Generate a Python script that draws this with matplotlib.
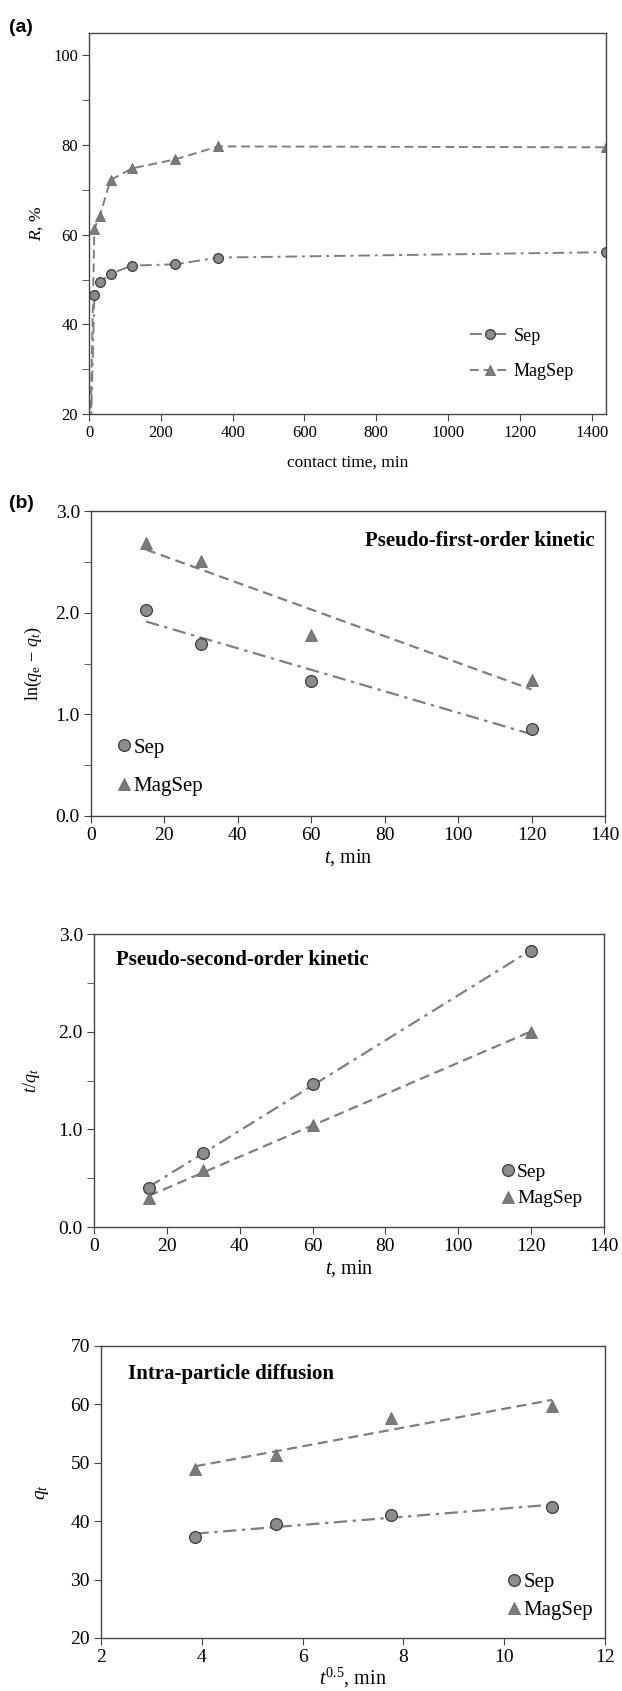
import numpy as np
import matplotlib
matplotlib.use('Agg')
import matplotlib.pyplot as plt
from matplotlib.ticker import MultipleLocator

plt.rcParams['font.family'] = ['Liberation Serif', 'DejaVu Serif']
plt.rcParams['mathtext.fontset'] = 'custom'
plt.rcParams['mathtext.rm'] = 'Liberation Serif'
plt.rcParams['mathtext.it'] = 'Liberation Serif:italic'
plt.rcParams['mathtext.bf'] = 'Liberation Serif:bold'

# (a) removal vs contact time
time_a = [0, 15, 30, 60, 120, 240, 360, 1440]
sep_R = [0, 46.6, 49.4, 51.3, 53.1, 53.4, 54.9, 56.1]
mag_R = [0, 61.3, 64.2, 72.2, 74.8, 76.8, 79.7, 79.5]

# (b) kinetics
t_kin = np.array([15, 30, 60, 120])
sep_pfo = [2.03, 1.69, 1.33, 0.86]
mag_pfo = [2.69, 2.51, 1.78, 1.34]
sep_pso = [0.40, 0.76, 1.46, 2.83]
mag_pso = [0.30, 0.58, 1.04, 2.00]
t_sqrt = np.sqrt(t_kin)
sep_ipd = [37.3, 39.5, 41.0, 42.5]
mag_ipd = [49.0, 51.3, 57.7, 59.8]

fill = '#8c8c8c'
edge = '#3c3c3c'
lcol = '#7f7f7f'
dash = (0, (4.5, 2.5))
dashdot = (0, (6, 2.5, 1.5, 2.5))

W, H = 622, 1691
fig = plt.figure(figsize=(W / 100, H / 100), dpi=100)


def axes_px(l, r, t, b):
    return fig.add_axes([l / W, 1 - b / H, (r - l) / W, (b - t) / H])


def style(ax, fs):
    for s in ax.spines.values():
        s.set_color('#444444')
        s.set_linewidth(1.0)
    ax.tick_params(which='both', direction='out', top=False, right=False,
                   labelsize=fs, color='#444444', pad=3)
    ax.tick_params(which='major', length=5)
    ax.tick_params(which='minor', length=5)


# ---- panel (a)
ax = axes_px(89, 606, 33, 414)
ax.plot(time_a, sep_R, linestyle=dashdot, color=lcol, lw=1.4, marker='o',
        ms=7, mfc=fill, mec=edge, mew=0.9, label='Sep', clip_on=True)
ax.plot(time_a, mag_R, linestyle=dash, color=lcol, lw=1.4, marker='^',
        ms=7.5, mfc='#7a7a7a', mec='#6a6a6a', mew=0.6, label='MagSep')
ax.set_xlim(0, 1440)
ax.set_ylim(20, 105)
ax.xaxis.set_major_locator(MultipleLocator(200))
ax.yaxis.set_major_locator(MultipleLocator(20))
ax.yaxis.set_minor_locator(MultipleLocator(10))
style(ax, 12)
ax.set_xlabel('contact time, min', fontsize=12.5, labelpad=10)
ax.set_ylabel(r'$R$, %', fontsize=12.5, labelpad=6)
ax.legend(loc='upper left', bbox_to_anchor=(0.72, 0.25), frameon=False,
          fontsize=13, handlelength=2.2, handletextpad=0.2, labelspacing=1.0,
          borderpad=0)
fig.text(9 / W, 1 - 28 / H, '(a)', family='Liberation Sans', weight='bold',
         fontsize=14, va='center', ha='left')


def kinetic(l, r, t, b, x, ys, ym, xlim, ylim, xstep, ystep, minor):
    ax = axes_px(l, r, t, b)
    for y, ls in ((ym, dash), (ys, dashdot)):
        k, c = np.polyfit(x, y, 1)
        xx = np.array([x[0], x[-1]])
        ax.plot(xx, k * xx + c, linestyle=ls, color=lcol, lw=1.6)
    ax.plot(x, ys, linestyle='none', marker='o', ms=8.5, mfc=fill, mec=edge,
            mew=0.9, label='Sep')
    ax.plot(x, ym, linestyle='none', marker='^', ms=9, mfc='#7a7a7a',
            mec='#6a6a6a', mew=0.6, label='MagSep')
    ax.set_xlim(*xlim)
    ax.set_ylim(*ylim)
    ax.xaxis.set_major_locator(MultipleLocator(xstep))
    ax.yaxis.set_major_locator(MultipleLocator(ystep))
    if minor:
        ax.yaxis.set_minor_locator(MultipleLocator(minor))
    style(ax, 14)
    return ax


# ---- panel (b) pseudo-first-order
ax = kinetic(91, 605, 511, 816, t_kin, sep_pfo, mag_pfo, (0, 140), (0, 3),
             20, 1.0, 0.5)
ax.yaxis.set_major_formatter(lambda v, p: f'{v:.1f}')
ax.set_xlabel(r'$t$, min', fontsize=14.5, labelpad=2)
ax.set_ylabel(r'ln($q_{\rm e}$ $-$ $q_t$)', fontsize=13, labelpad=8)
ax.text(0.979, 0.90, 'Pseudo-first-order kinetic', transform=ax.transAxes,
        ha='right', va='center', fontsize=15, weight='bold')
ax.legend(loc='upper left', bbox_to_anchor=(0.03, 0.29), frameon=False,
          fontsize=15, handlelength=0.7, handletextpad=0.1, labelspacing=0.9,
          borderpad=0)
fig.text(9 / W, 1 - 503 / H, '(b)', family='Liberation Sans', weight='bold',
         fontsize=14, va='center', ha='left')

# ---- panel pseudo-second-order
ax = kinetic(94, 604, 934, 1227, t_kin, sep_pso, mag_pso, (0, 140), (0, 3),
             20, 1.0, 0.5)
ax.yaxis.set_major_formatter(lambda v, p: f'{v:.1f}')
ax.set_xlabel(r'$t$, min', fontsize=14.5, labelpad=2)
ax.set_ylabel(r'$t$/$q_t$', fontsize=13, labelpad=12)
ax.text(0.043, 0.91, 'Pseudo-second-order kinetic', transform=ax.transAxes,
        ha='left', va='center', fontsize=15, weight='bold')
ax.legend(loc='upper left', bbox_to_anchor=(0.78, 0.25), frameon=False,
          fontsize=14, handlelength=0.7, handletextpad=0.1, labelspacing=0.45,
          borderpad=0)

# ---- panel intra-particle diffusion
ax = kinetic(101, 605, 1346, 1638, t_sqrt, sep_ipd, mag_ipd, (2, 12), (20, 70),
             2, 10, None)
ax.set_xlabel(r'$t^{0.5}$, min', fontsize=14.5, labelpad=0)
ax.set_ylabel(r'$q_t$', fontsize=14, labelpad=14)
ax.text(0.053, 0.905, 'Intra-particle diffusion', transform=ax.transAxes,
        ha='left', va='center', fontsize=15, weight='bold')
ax.legend(loc='upper left', bbox_to_anchor=(0.785, 0.26), frameon=False,
          fontsize=15, handlelength=0.7, handletextpad=0.1, labelspacing=0.4,
          borderpad=0)

fig.savefig('out.png', dpi=100)
